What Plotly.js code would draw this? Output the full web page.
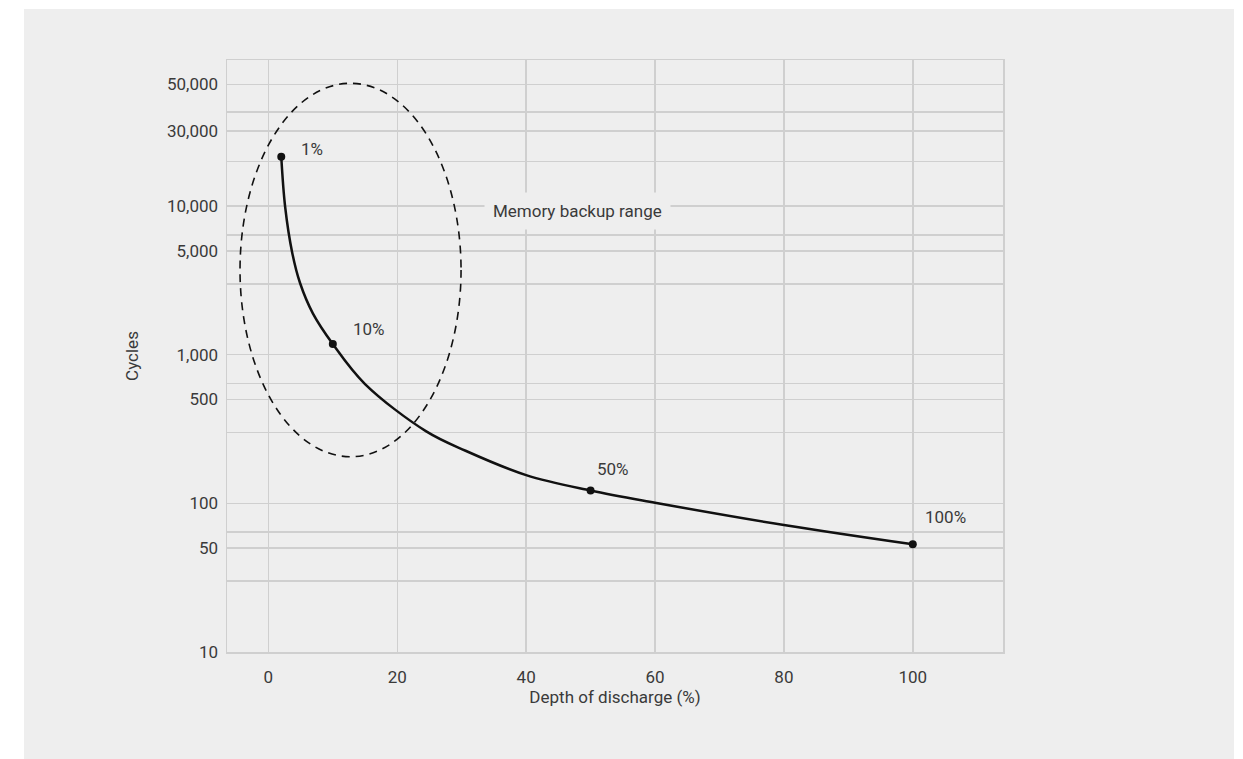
<!DOCTYPE html>
<html>
<head>
<meta charset="utf-8">
<script src="https://cdn.plot.ly/plotly-3.0.1.min.js"></script>
<style>
  html, body { margin: 0; padding: 0; background: #ffffff; }
  #chart { width: 1243px; height: 759px; }
</style>
</head>
<body>
<div id="chart"></div>
<script>
// ---- Data ----
// Cycle-life curve (depth of discharge % vs cycles)
const curveDepth  = [2, 2.6, 3.7, 4.9, 6.9, 10, 15, 24.5, 30.6, 40, 50, 60, 80, 100];
const curveCycles = [21500, 9900, 4860, 3050, 1900, 1180, 635, 305, 226, 155, 122, 101, 71.5, 53];

// Highlighted points
const keyDepth  = [2, 10, 50, 100];
const keyCycles = [21500, 1180, 122, 53];
const keyLabels = ['1%', '10%', '50%', '100%'];

// Memory backup range (ellipse extents: depth and cycles)
const backupDepth  = [-4.4, 29.9];
const backupCycles = [206, 67000];
const backupLabel  = 'Memory backup range';
const backupLabelAt = [48, 9300];

// Axis ticks
const xTickVals = [0, 20, 40, 60, 80, 100];
const xTickText = ['0', '20', '40', '60', '80', '100'];
const yTickVals = [10, 30, 50, 64, 100, 300, 500, 640, 1000, 3000, 5000, 6400, 10000, 20000, 32000, 43000, 66000];
const yTickText = ['10', '', '50', '', '100', '', '500', '', '1,000', '', '5,000', '', '10,000', '', '30,000', '', '50,000'];

// ---- Styling ----
const FONT = 'Roboto, "Open Sans", "DejaVu Sans", sans-serif';
const FS = 17;
const TXT = '#3a3a3a';
const GRID = '#cfcfcf';
const PANEL = '#eeeeee';
const labelOffsets = [[31, 8], [36, 15], [22, 22], [33, 27]];

const traces = [
  {
    x: curveDepth, y: curveCycles,
    type: 'scatter', mode: 'lines',
    line: { color: '#111111', width: 2.5, shape: 'spline', smoothing: 1 },
    hoverinfo: 'skip', showlegend: false
  },
  {
    x: keyDepth, y: keyCycles,
    type: 'scatter', mode: 'markers',
    marker: { color: '#111111', size: 8 },
    showlegend: false
  }
];

const annotations = keyLabels.map((t, i) => ({
  x: keyDepth[i], y: Math.log10(keyCycles[i]),
  xref: 'x', yref: 'y',
  text: t, showarrow: false,
  xanchor: 'center', yanchor: 'middle',
  xshift: labelOffsets[i][0], yshift: labelOffsets[i][1],
  font: { family: FONT, size: FS, color: TXT }
}));
annotations.push({
  x: backupLabelAt[0], y: Math.log10(backupLabelAt[1]),
  xref: 'x', yref: 'y',
  text: backupLabel, showarrow: false,
  xanchor: 'center', yanchor: 'middle',
  bgcolor: PANEL, borderpad: 8,
  font: { family: FONT, size: FS, color: TXT }
});

const layout = {
  width: 1243, height: 759,
  margin: { l: 227, r: 240, t: 60, b: 107 },
  paper_bgcolor: '#ffffff',
  plot_bgcolor: 'rgba(0,0,0,0)',
  font: { family: FONT, size: FS, color: TXT },
  showlegend: false,
  xaxis: {
    type: 'linear',
    range: [-6.42, 114.0],
    tickvals: xTickVals, ticktext: xTickText,
    showgrid: true, gridcolor: GRID, gridwidth: 1.5,
    zeroline: false,
    showline: true, mirror: true, linecolor: GRID, linewidth: 1.5,
    ticks: '', ticklabelstandoff: 9,
    tickfont: { family: FONT, size: FS, color: TXT },
    title: { text: 'Depth of discharge (%)', standoff: 4, font: { family: FONT, size: FS, color: TXT } }
  },
  yaxis: {
    type: 'log',
    range: [1, 4.983],
    tickvals: yTickVals, ticktext: yTickText,
    showgrid: true, gridcolor: GRID, gridwidth: 1.5,
    zeroline: false,
    showline: true, mirror: true, linecolor: GRID, linewidth: 1.5,
    ticks: '', ticklabelstandoff: 4,
    tickfont: { family: FONT, size: FS, color: TXT },
    title: { text: 'Cycles', standoff: 24, font: { family: FONT, size: FS, color: TXT } }
  },
  shapes: [
    {
      type: 'rect', xref: 'paper', yref: 'paper',
      x0: -0.2616, x1: 1.2977, y0: -0.1807, y1: 1.0861,
      fillcolor: PANEL, line: { width: 0 }, layer: 'below'
    },
    {
      type: 'circle', xref: 'x', yref: 'y',
      x0: backupDepth[0], x1: backupDepth[1],
      y0: backupCycles[0], y1: backupCycles[1],
      line: { color: '#111111', width: 1.6, dash: '8px,6px' },
      fillcolor: 'rgba(0,0,0,0)', layer: 'above'
    }
  ],
  annotations: annotations
};

Plotly.newPlot('chart', traces, layout, { displayModeBar: false, staticPlot: true });
</script>
</body>
</html>
